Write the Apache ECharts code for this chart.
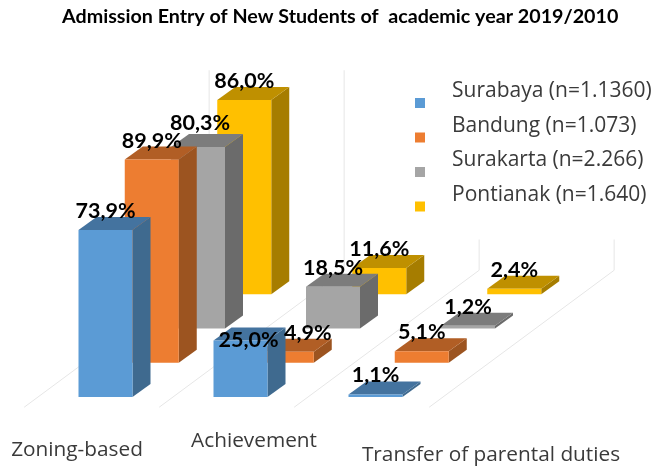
<!DOCTYPE html>
<html>
<head>
<meta charset="utf-8">
<title>Admission Entry</title>
<script src="https://cdn.jsdelivr.net/npm/echarts@6/dist/echarts.min.js"></script>
<style>
  html, body { margin: 0; padding: 0; background: #fff; }
  #chart { width: 653px; height: 468px; }
</style>
</head>
<body>
<div id="chart"></div>
<script>
const categories = ['Zoning-based', 'Achievement', 'Transfer of parental duties'];
const seriesNames = ['Surabaya (n=1.1360)', 'Bandung (n=1.073)', 'Surakarta (n=2.266)', 'Pontianak (n=1.640)'];
const surabaya = [73.9, 25.0, 1.1];
const bandung = [89.9, 4.9, 5.1];
const surakarta = [80.3, 18.5, 1.2];
const pontianak = [86.0, 11.6, 2.4];

// front, side, top
const shades = [
  ['#5b9bd5', '#3f6a8f', '#44739f'],
  ['#ed7d31', '#9c5420', '#b15e25'],
  ['#a5a5a5', '#6b6b6b', '#7c7c7c'],
  ['#ffc000', '#a67d00', '#bf9000']
];

// oblique projection: one series row goes this far right/up
const rowDx = 46.25;
const rowDy = -34.25;
const boxDx = 18;
const boxDy = -13;
const wallTop = 88.5;

// hand placed labels, the original has them dragged around
const labelNudge = { '2-0': [2, -5], '0-1': [8, 19], '1-1': [21, 0] };

function poly(points, fill) {
  return { type: 'polygon', z2: 1, shape: { points: points }, style: { fill: fill } };
}

function renderBar(row) {
  return function (params, api) {
    const cat = api.value(0);
    const val = api.value(1);
    const base = api.coord([cat, 0]);
    const w = api.size([1, 0])[0] * 0.4;
    const h = api.size([0, val])[1];
    const x = base[0] - w / 2 + rowDx * row;
    const y = base[1] + rowDy * row;
    const top = y - h;
    const c = shades[row];
    const nudge = labelNudge[row + '-' + cat] || [0, 0];
    return {
      type: 'group',
      children: [
        poly([[x + w, y], [x + w + boxDx, y + boxDy], [x + w + boxDx, top + boxDy], [x + w, top]], c[1]),
        poly([[x, top], [x + w, top], [x + w + boxDx, top + boxDy], [x + boxDx, top + boxDy]], c[2]),
        poly([[x, y], [x + w, y], [x + w, top], [x, top]], c[0]),
        {
          type: 'text',
          z2: 100,
          style: {
            x: x + w / 2 + nudge[0],
            y: top - 19 + nudge[1],
            text: val.toFixed(1).replace('.', ',') + '%',
            fill: '#000',
            font: 'bold 21.5px Lato',
            align: 'center',
            verticalAlign: 'middle'
          }
        }
      ]
    };
  };
}

function renderWalls(params, api) {
  const sys = params.coordSys;
  const i = api.value(0);
  const band = sys.width / categories.length;
  const wallH = api.size([0, wallTop])[1];
  const floorY = sys.y + sys.height;
  const lines = [];
  const last = i === categories.length - 1 ? i + 1 : i;
  for (let k = i; k <= last; k++) {
    const x0 = sys.x + band * k - 0.3 * rowDx;
    const y0 = floorY - 0.3 * rowDy;
    const x1 = x0 + 4 * rowDx;
    const y1 = y0 + 4 * rowDy;
    lines.push({
      type: 'polyline',
      shape: { points: [[x0, y0], [x1, y1], [x1, y1 - wallH]] },
      style: { fill: null, stroke: '#e6e6e6', lineWidth: 1 }
    });
  }
  return { type: 'group', children: lines };
}

const rows = [surabaya, bandung, surakarta, pontianak];
const barSeries = rows.map(function (values, row) {
  return {
    name: seriesNames[row],
    type: 'custom',
    coordinateSystem: 'cartesian2d',
    renderItem: renderBar(row),
    itemStyle: { color: shades[row][0] },
    encode: { x: 0, y: 1 },
    data: values.map(function (v, i) { return [i, v]; })
  };
}).reverse(); // back row has to be painted first

const option = {
  animation: false,
  title: {
    text: 'Admission Entry of New Students of  academic year 2019/2010',
    left: 57,
    top: 2,
    textStyle: { fontFamily: 'Lato', fontWeight: 'bold', fontSize: 19.7, color: '#000' }
  },
  legend: {
    data: seriesNames,
    orient: 'vertical',
    left: 410,
    top: 70,
    padding: [10, 0, 10, 5],
    backgroundColor: '#fff',
    z: 20,
    icon: 'rect',
    itemWidth: 10,
    itemHeight: 10,
    itemGap: -11.5,
    selectedMode: false,
    // second empty line lifts the name above its swatch like in the original
    formatter: function (name) { return name + '\n '; },
    textStyle: {
      fontFamily: 'Open Sans',
      fontSize: 21,
      lineHeight: 23,
      color: '#3a3a3a',
      padding: [0, 0, 0, 22]
    }
  },
  grid: { left: 38, top: 171, width: 405, height: 226 },
  xAxis: {
    type: 'category',
    data: [
      { value: categories[0], textStyle: { padding: [26, 57, 0, 0] } },
      { value: categories[1], textStyle: { padding: [17, 0, 0, 27] } },
      { value: categories[2], textStyle: { padding: [31, 0, 0, 231] } }
    ],
    axisLine: { show: false },
    axisTick: { show: false },
    axisLabel: {
      interval: 0,
      margin: 17,
      fontFamily: 'Open Sans',
      fontSize: 20.8,
      color: '#3a3a3a'
    }
  },
  yAxis: { type: 'value', min: 0, max: 100, show: false },
  series: [{
    type: 'custom',
    coordinateSystem: 'cartesian2d',
    renderItem: renderWalls,
    silent: true,
    encode: { x: 0 },
    data: categories.map(function (c, i) { return [i]; })
  }].concat(barSeries)
};

const chart = echarts.init(document.getElementById('chart'));
chart.setOption(option);
</script>
</body>
</html>
